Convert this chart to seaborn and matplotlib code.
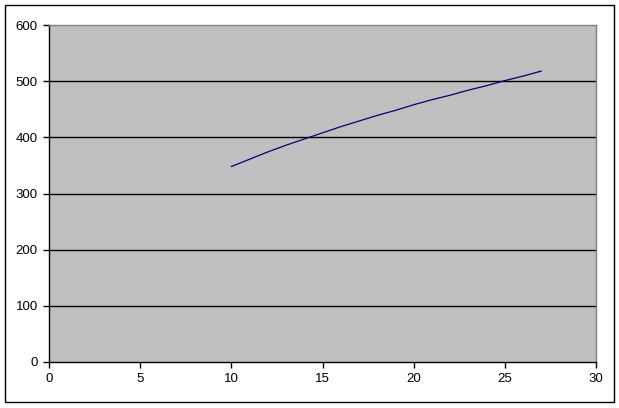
import pandas as pd
import matplotlib
matplotlib.use('Agg')
import matplotlib.pyplot as plt
import seaborn as sns
from matplotlib.patches import Rectangle

# values
x_vals = [10, 11, 12, 13, 14, 15, 16, 17, 18, 19, 20, 21, 22, 23, 24, 25, 26, 27]
y_vals = [348, 361, 374, 386, 397, 408, 419, 429, 439, 448, 458, 467, 475, 484, 492, 501, 509, 518]
x_ticks = [0, 5, 10, 15, 20, 25, 30]
y_ticks = [0, 100, 200, 300, 400, 500, 600]

info = pd.DataFrame({'x': x_vals, 'y': y_vals})

sns.set_style('white')
plt.rcParams['font.family'] = ['Liberation Sans', 'DejaVu Sans']

fig = plt.figure(figsize=(6.19, 4.08), dpi=100)
ax = fig.add_axes([49 / 619, 46 / 408, 547 / 619, 337 / 408])
ax.set_facecolor('#c0c0c0')

sns.lineplot(data=info, x='x', y='y', color='#000080', linewidth=0.9, ax=ax)

# horizontal gridlines in black
for v in y_ticks[1:-1]:
    ax.axhline(v, color='black', linewidth=1, zorder=1)

ax.set_xlim(0, 30)
ax.set_ylim(0, 600)
ax.set_xticks(x_ticks)
ax.set_yticks(y_ticks)
ax.set_xlabel('')
ax.set_ylabel('')
ax.tick_params(direction='out', length=4, width=1, color='black', labelcolor='black',
               labelsize=9.5, pad=4, bottom=True, left=True)

for side in ['left', 'bottom']:
    ax.spines[side].set_color('black')
    ax.spines[side].set_linewidth(1)
for side in ['top', 'right']:
    ax.spines[side].set_visible(True)
    ax.spines[side].set_color('#808080')
    ax.spines[side].set_linewidth(1)

# outer chart border
fig.patches.append(Rectangle((5 / 619, 6 / 408), 609 / 619, 397 / 408, transform=fig.transFigure,
                             fill=False, edgecolor='black', linewidth=1))

fig.savefig('out.png', dpi=100)
